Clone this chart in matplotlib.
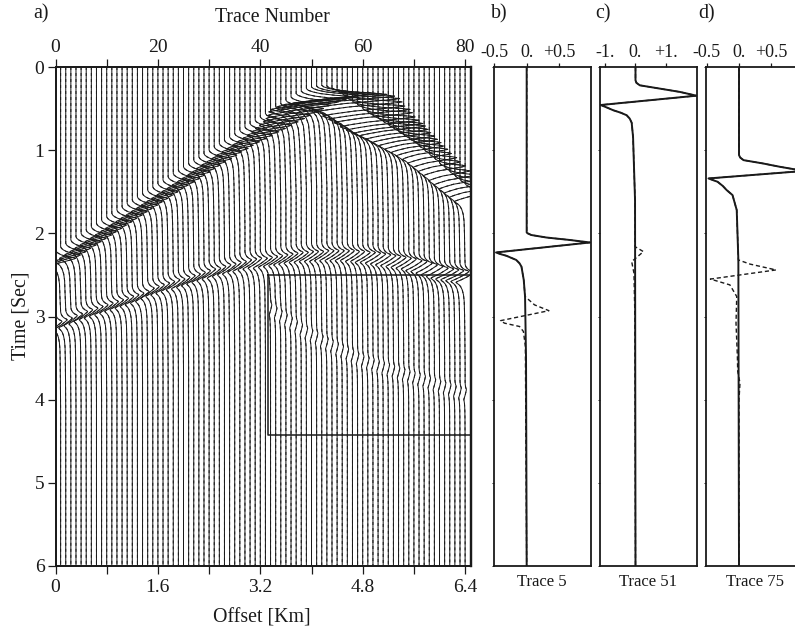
import numpy as np
import matplotlib
matplotlib.use('Agg')
import matplotlib.pyplot as plt

# Panel a: picks read per trace, 0..80
trace_numbers = list(range(81))
direct_time = [
    2.30, 2.26, 2.22, 2.18, 2.14, 2.10, 2.06, 2.02, 1.98, 1.94,
    1.90, 1.86, 1.82, 1.78, 1.74, 1.70, 1.66, 1.62, 1.58, 1.54,
    1.50, 1.46, 1.42, 1.38, 1.34, 1.30, 1.26, 1.22, 1.18, 1.14,
    1.10, 1.06, 1.02, 0.98, 0.94, 0.90, 0.86, 0.82, 0.78, 0.74,
    0.70, 0.66, 0.62, 0.58, 0.54, 0.50, 0.46, 0.42, 0.39, 0.36,
    0.34, 0.33, 0.32, 0.33, 0.35, 0.38, 0.42, 0.47, 0.51, 0.55,
    0.60, 0.64, 0.68, 0.71, 0.75, 0.79, 0.83, 0.87, 0.91, 0.95,
    0.99, 1.04, 1.09, 1.14, 1.19, 1.25, 1.30, 1.35, 1.40, 1.45,
    1.50]
direct_peak = [
    0.80, 0.80, 0.80, 0.80, 0.80, 0.80, 0.80, 0.80, 0.80, 0.80,
    0.80, 0.80, 0.80, 0.80, 0.80, 0.80, 0.80, 0.80, 0.80, 0.80,
    0.80, 0.80, 0.80, 0.85, 0.85, 0.85, 0.85, 0.85, 0.85, 0.85,
    0.90, 0.90, 0.90, 0.95, 0.95, 1.00, 1.05, 1.10, 1.15, 1.20,
    1.25, 1.30, 1.35, 1.40, 1.45, 1.50, 1.60, 1.70, 1.80, 1.90,
    1.95, 2.00, 2.20, 2.40, 2.50, 2.50, 2.40, 2.30, 2.30, 2.20,
    2.10, 2.05, 2.00, 1.90, 1.80, 1.70, 1.65, 1.55, 1.50, 1.40,
    1.35, 1.30, 1.30, 1.25, 1.25, 1.20, 1.20, 1.20, 1.20, 1.20,
    1.20]
direct_trough = [
    0.45, 0.45, 0.45, 0.45, 0.45, 0.45, 0.45, 0.45, 0.45, 0.45,
    0.45, 0.45, 0.45, 0.45, 0.45, 0.45, 0.45, 0.45, 0.45, 0.45,
    0.45, 0.45, 0.45, 0.45, 0.45, 0.45, 0.45, 0.45, 0.45, 0.45,
    0.50, 0.50, 0.50, 0.50, 0.50, 0.50, 0.50, 0.50, 0.50, 0.50,
    0.50, 0.55, 0.60, 0.65, 0.70, 0.80, 0.90, 1.10, 1.20, 1.20,
    1.20, 1.15, 1.20, 1.20, 1.20, 1.10, 1.05, 1.00, 0.95, 0.95,
    0.90, 0.85, 0.80, 0.75, 0.70, 0.65, 0.60, 0.55, 0.50, 0.50,
    0.45, 0.45, 0.45, 0.45, 0.45, 0.43, 0.43, 0.43, 0.43, 0.43,
    0.43]
reflect_time = [
    3.06, 3.04, 3.02, 2.99, 2.97, 2.94, 2.92, 2.90, 2.88, 2.86,
    2.84, 2.82, 2.80, 2.78, 2.76, 2.74, 2.72, 2.70, 2.66, 2.64,
    2.62, 2.60, 2.58, 2.56, 2.55, 2.53, 2.51, 2.49, 2.47, 2.45,
    2.43, 2.42, 2.40, 2.38, 2.37, 2.35, 2.34, 2.32, 2.31, 2.30,
    2.30, 2.29, 2.28, 2.27, 2.26, 2.25, 2.24, 2.23, 2.23, 2.22,
    2.22, 2.22, 2.21, 2.21, 2.21, 2.21, 2.21, 2.21, 2.22, 2.22,
    2.23, 2.23, 2.24, 2.25, 2.26, 2.27, 2.28, 2.29, 2.30, 2.31,
    2.33, 2.34, 2.36, 2.38, 2.40, 2.42, 2.43, 2.44, 2.45, 2.46,
    2.47]
reflect_peak = [
    0.26, 0.26, 0.26, 0.26, 0.26, 0.26, 0.26, 0.26, 0.26, 0.26,
    0.26, 0.26, 0.26, 0.26, 0.26, 0.26, 0.26, 0.26, 0.26, 0.26,
    0.26, 0.26, 0.26, 0.26, 0.26, 0.26, 0.26, 0.26, 0.26, 0.26,
    0.26, 0.26, 0.26, 0.26, 0.26, 0.26, 0.26, 0.26, 0.26, 0.26,
    0.28, 0.28, 0.28, 0.28, 0.28, 0.28, 0.28, 0.28, 0.28, 0.28,
    0.28, 0.28, 0.28, 0.28, 0.28, 0.28, 0.28, 0.28, 0.28, 0.28,
    0.30, 0.30, 0.30, 0.30, 0.30, 0.30, 0.30, 0.30, 0.30, 0.30,
    0.32, 0.32, 0.32, 0.32, 0.34, 0.34, 0.36, 0.36, 0.36, 0.36,
    0.36]
reflect_trough = [
    0.28, 0.28, 0.28, 0.28, 0.28, 0.28, 0.28, 0.28, 0.28, 0.28,
    0.28, 0.28, 0.28, 0.28, 0.28, 0.28, 0.28, 0.28, 0.28, 0.28,
    0.28, 0.28, 0.28, 0.28, 0.28, 0.28, 0.28, 0.28, 0.28, 0.28,
    0.28, 0.28, 0.28, 0.28, 0.28, 0.28, 0.28, 0.28, 0.28, 0.28,
    0.28, 0.28, 0.28, 0.28, 0.28, 0.28, 0.28, 0.28, 0.28, 0.28,
    0.28, 0.28, 0.28, 0.28, 0.28, 0.28, 0.28, 0.28, 0.28, 0.28,
    0.30, 0.30, 0.30, 0.30, 0.30, 0.30, 0.30, 0.30, 0.30, 0.30,
    0.32, 0.32, 0.32, 0.32, 0.32, 0.34, 0.36, 0.36, 0.36, 0.36,
    0.36]

# Faint late arrival inside the box, traces 42..80
late_first_trace = 42
late_time = [
    2.86, 2.90, 2.94, 2.98, 3.02, 3.06, 3.10, 3.14, 3.17, 3.20,
    3.24, 3.27, 3.30, 3.33, 3.36, 3.39, 3.42, 3.45, 3.48, 3.50,
    3.52, 3.54, 3.56, 3.58, 3.60, 3.62, 3.64, 3.66, 3.68, 3.70,
    3.72, 3.74, 3.76, 3.78, 3.80, 3.82, 3.84, 3.86, 3.88]
late_amp = 0.05

# Pulse shape: time from the peak, and relative height
pulse_dt = [-0.10, -0.08, -0.06, -0.04, -0.02, -0.01, 0.00, 0.01, 0.03, 0.06, 0.09,
            0.11, 0.12, 0.13, 0.15, 0.17, 0.21, 0.27, 0.35, 0.50, 0.75, 1.10]
pulse_shape = [0.00, 0.04, 0.14, 0.30, 0.60, 0.88, 1.00, 0.90, 0.60, 0.12, -0.45,
               -0.88, -1.00, -0.90, -0.66, -0.50, -0.32, -0.18, -0.10, -0.06, -0.03, 0.00]

# Panels b, c, d: (time, amplitude)
trace5_time = [0.0, 1.99, 2.00, 2.02, 2.05, 2.08, 2.11, 2.23, 2.25, 2.27, 2.32, 2.36, 2.40, 2.56, 2.76, 3.50, 6.0]
trace5_solid = [0.0, 0.0, 0.015, 0.07, 0.30, 0.66, 0.97, -0.47, -0.40, -0.31, -0.16, -0.11, -0.08, -0.045, -0.025, -0.01, 0.0]
trace5_dash_time = [0.0, 1.99, 2.00, 2.02, 2.05, 2.08, 2.11, 2.23, 2.25, 2.27, 2.32, 2.36, 2.40, 2.56, 2.76, 2.86, 2.93,
                    3.05, 3.08, 3.12, 3.18, 3.36, 6.0]
trace5_dash = [0.0, 0.0, 0.015, 0.07, 0.30, 0.66, 0.97, -0.47, -0.40, -0.31, -0.16, -0.11, -0.08, -0.045, -0.025, 0.12, 0.34,
               -0.40, -0.34, -0.11, -0.05, -0.02, 0.0]

trace51_time = [0.0, 0.16, 0.19, 0.22, 0.26, 0.30, 0.345, 0.457, 0.49, 0.52, 0.55, 0.58, 0.62, 0.67, 0.84, 1.60, 6.0]
trace51_solid = [0.0, 0.0, 0.03, 0.14, 0.80, 1.46, 2.00, -1.14, -0.92, -0.73, -0.48, -0.29, -0.19, -0.125, -0.08, -0.015, 0.0]
trace51_dash_time = [0.0, 0.16, 0.19, 0.22, 0.26, 0.30, 0.345, 0.457, 0.49, 0.52, 0.55, 0.58, 0.62, 0.67, 0.84, 1.60, 2.16, 2.22,
                     2.34, 2.48, 3.0, 6.0]
trace51_dash = [0.0, 0.0, 0.03, 0.14, 0.80, 1.46, 2.00, -1.14, -0.92, -0.73, -0.48, -0.29, -0.19, -0.125, -0.08, -0.015, -0.015, 0.26,
                -0.125, -0.05, -0.02, 0.0]

trace75_time = [0.0, 1.06, 1.09, 1.12, 1.16, 1.20, 1.25, 1.34, 1.38, 1.43, 1.48, 1.54, 1.72, 2.32, 6.0]
trace75_solid = [0.0, 0.0, 0.02, 0.07, 0.37, 0.63, 1.00, -0.47, -0.33, -0.25, -0.19, -0.10, -0.035, -0.01, 0.0]
trace75_dash_time = [0.0, 1.06, 1.09, 1.12, 1.16, 1.20, 1.25, 1.34, 1.38, 1.43, 1.48, 1.54, 1.72, 2.32, 2.37, 2.44, 2.55,
                     2.62, 2.76, 3.08, 3.48, 3.66, 3.80, 4.00, 6.0]
trace75_dash = [0.0, 0.0, 0.02, 0.07, 0.37, 0.63, 1.00, -0.47, -0.33, -0.25, -0.19, -0.10, -0.035, -0.01, 0.17, 0.57, -0.44,
                -0.14, -0.035, -0.046, -0.025, -0.02, 0.015, 0.0, 0.0]

trace_ticks = [0, 20, 40, 60, 80]
offset_labels = ['0', '1.6', '3.2', '4.8', '6.4']
box_traces = [41.6, 81.1]
box_times = [2.5, 4.42]

W, H = 795, 630
INK = '#1a1a1a'
FONT = 'Liberation Serif'
TRACE_PX = 5.12
AMP_PX = 25.0  # deflection of one amplitude unit in panel a


def px_axes(fig, left, right, top, bottom):
    """Add an axes from pixel edges measured from the top left."""
    return fig.add_axes([left / W, 1 - bottom / H, (right - left) / W, (bottom - top) / H])


def event_points(t0, peak, trough, limit):
    """Vertices of one pulse, cut where the next event starts."""
    times, amps = [], []
    for dt, s in zip(pulse_dt, pulse_shape):
        if t0 + dt < limit:
            times.append(t0 + dt)
            amps.append(s * (peak if s > 0 else trough))
    return times, amps


def build_trace(i):
    """Time and amplitude vertices of trace i."""
    events = [(direct_time[i], direct_peak[i], direct_trough[i]),
              (reflect_time[i], reflect_peak[i], reflect_trough[i])]
    if i >= late_first_trace:
        events.append((late_time[i - late_first_trace], late_amp, late_amp))
    times, amps = [0.0], [0.0]
    for k, (t0, peak, trough) in enumerate(events):
        limit = events[k + 1][0] + pulse_dt[0] if k + 1 < len(events) else 6.0
        ev_t, ev_a = event_points(t0, peak, trough, limit)
        times += ev_t
        amps += ev_a
    times.append(6.0)
    amps.append(0.0)
    return np.array(times), np.array(amps)


def style_frame(ax, width=1.3):
    for side in ax.spines:
        ax.spines[side].set_linewidth(width)
        ax.spines[side].set_color(INK)


def plot_section(fig):
    """Panel a, the wiggle section."""
    ax = px_axes(fig, 55.5, 471, 67, 566)
    scale = AMP_PX / TRACE_PX
    for i in trace_numbers:
        t, a = build_trace(i)
        ax.plot(i + a * scale, t, color=INK, lw=0.72, solid_joinstyle='round', snap=False)
        ax.plot(i + a * scale, t, color=INK, lw=0.72, ls=(0, (3, 3)), snap=False)
    ax.plot([box_traces[0], box_traces[1], box_traces[1], box_traces[0], box_traces[0]],
            [box_times[0], box_times[0], box_times[1], box_times[1], box_times[0]],
            color=INK, lw=1.1)
    ax.set_xlim(0, 81.15)
    ax.set_ylim(6, 0)
    style_frame(ax)
    ax.spines['right'].set_linewidth(1.6)
    ax.set_xticks(trace_ticks)
    ax.set_xticks([10, 30, 50, 70], minor=True)
    ax.set_xticklabels(offset_labels, family=FONT, fontsize=14, color=INK)
    ax.set_yticks(range(7))
    ax.set_yticklabels([str(v) for v in range(7)], family=FONT, fontsize=14, color=INK)
    ax.tick_params(axis='both', which='both', length=6, width=0.9, color=INK, pad=3)
    ax.tick_params(axis='y', pad=2)

    top = ax.twiny()
    top.set_xlim(ax.get_xlim())
    top.set_xticks(trace_ticks)
    top.set_xticks([10, 30, 50, 70], minor=True)
    top.set_xticklabels([str(v) for v in trace_ticks], family=FONT, fontsize=14, color=INK)
    top.tick_params(axis='x', which='both', length=6, width=0.9, color=INK, pad=2)
    style_frame(top)
    top.spines['right'].set_linewidth(1.6)


def plot_trace_panel(fig, left, right, xlim, ticks, labels, time, solid, dash_time, dash, name):
    """One of the single trace panels."""
    ax = px_axes(fig, left, right, 67, 566)
    ax.plot(solid, time, color=INK, lw=1.4)
    ax.plot(dash, dash_time, color=INK, lw=1.0, ls=(0, (3, 2)))
    ax.set_xlim(*xlim)
    ax.set_ylim(6, 0)
    style_frame(ax)
    ax.xaxis.tick_top()
    ax.set_xticks(ticks)
    ax.set_xticklabels(labels, family=FONT, fontsize=13, color=INK)
    ax.set_yticks(range(7))
    ax.set_yticklabels([])
    ax.tick_params(axis='x', length=3, width=0.9, color=INK, pad=1)
    ax.tick_params(axis='y', length=1.5, width=0.7, color=INK)
    ax.set_xlabel(name, family=FONT, fontsize=12, color=INK, labelpad=6)


def put_text(fig, x, y, text, size=14.3, **kw):
    fig.text(x / W, 1 - y / H, text, family=FONT, fontsize=size, color=INK,
             ha=kw.pop('ha', 'center'), va='center', **kw)


def main():
    fig = plt.figure(figsize=(W / 100, H / 100), dpi=100)
    plot_section(fig)
    plot_trace_panel(fig, 493.5, 590.5, (-0.508, 0.977), [-0.5, 0, 0.5], ['-0.5', '0.', '+0.5'],
                     trace5_time, trace5_solid, trace5_dash_time, trace5_dash, 'Trace 5')
    plot_trace_panel(fig, 599.5, 696.5, (-1.18, 2.0), [-1, 0, 1], ['-1.', '0.', '+1.'],
                     trace51_time, trace51_solid, trace51_dash_time, trace51_dash, 'Trace 51')
    plot_trace_panel(fig, 706, 803, (-0.508, 0.985), [-0.5, 0, 0.5], ['-0.5', '0.', '+0.5'],
                     trace75_time, trace75_solid, trace75_dash_time, trace75_dash, 'Trace 75')

    put_text(fig, 41, 14, 'a)')
    put_text(fig, 499, 14, 'b)')
    put_text(fig, 603, 14, 'c)')
    put_text(fig, 707, 14, 'd)')
    put_text(fig, 272, 18, 'Trace Number')
    put_text(fig, 262, 618, 'Offset [Km]')
    put_text(fig, 21, 316, 'Time [Sec]', rotation=90)

    fig.savefig('out.png', dpi=100)


if __name__ == '__main__':
    main()
